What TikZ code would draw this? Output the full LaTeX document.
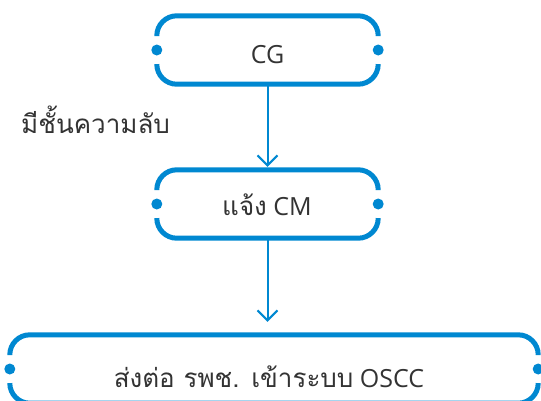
\documentclass[tikz,border=0pt]{standalone}
\usepackage{fontspec}
\setmainfont{Open Sans}
\newfontfamily\thaifont[Script=Thai,Scale=1.04]{Loma}
\usetikzlibrary{arrows.meta}
\definecolor{frameblue}{RGB}{0,136,209}
\definecolor{txtgray}{RGB}{51,51,51}
\tikzset{
  frame/.style={draw=none, inner sep=0pt, minimum height=68pt},
  lbl/.style={text=txtgray, inner sep=0pt, anchor=base, font=\fontsize{25}{30}\selectfont},
  edge/.style={draw=frameblue, line width=5pt, rounded corners=20pt},
  dotmark/.style={fill=frameblue},
  flow/.style={draw=frameblue, line width=2pt, -{Straight Barb[length=10pt,width=20pt,line width=2pt]}}
}
\newcommand{\drawframe}[1]{%
  \draw[edge] ([yshift=14pt]#1.west) |- (#1.north) -| ([yshift=14pt]#1.east);
  \draw[edge] ([yshift=-14pt]#1.west) |- (#1.south) -| ([yshift=-14pt]#1.east);
  \fill[dotmark] (#1.west) circle (5.5pt);
  \fill[dotmark] (#1.east) circle (5.5pt);
}
\begin{document}
\begin{tikzpicture}[x=1pt,y=-1pt]
\useasboundingbox (0,0) rectangle (541,400);
\node[frame, minimum width=221pt] (f1) at (267.5,50) {};
\node[frame, minimum width=221pt] (f2) at (267.5,204) {};
\node[frame, minimum width=528pt] (f3) at (274,369) {};
\drawframe{f1}
\drawframe{f2}
\drawframe{f3}
\node[lbl] (t1) at (267.5,63) {CG};
\node[lbl] (t2) at (267,215) {{\thaifont แจ้ง} CM};
\node[lbl] (t3) at (269,387) {{\thaifont ส่งต่อ รพช. เข้าระบบ} OSCC};
\node[lbl, anchor=base west] (t4) at (21,133) {\thaifont มีชั้นความลับ};
\draw[flow] (f1.south) -- ([yshift=3pt]f2.north);
\draw[flow] (f2.south) -- ([yshift=13pt]f2.south |- f3.north);
\end{tikzpicture}
\end{document}
